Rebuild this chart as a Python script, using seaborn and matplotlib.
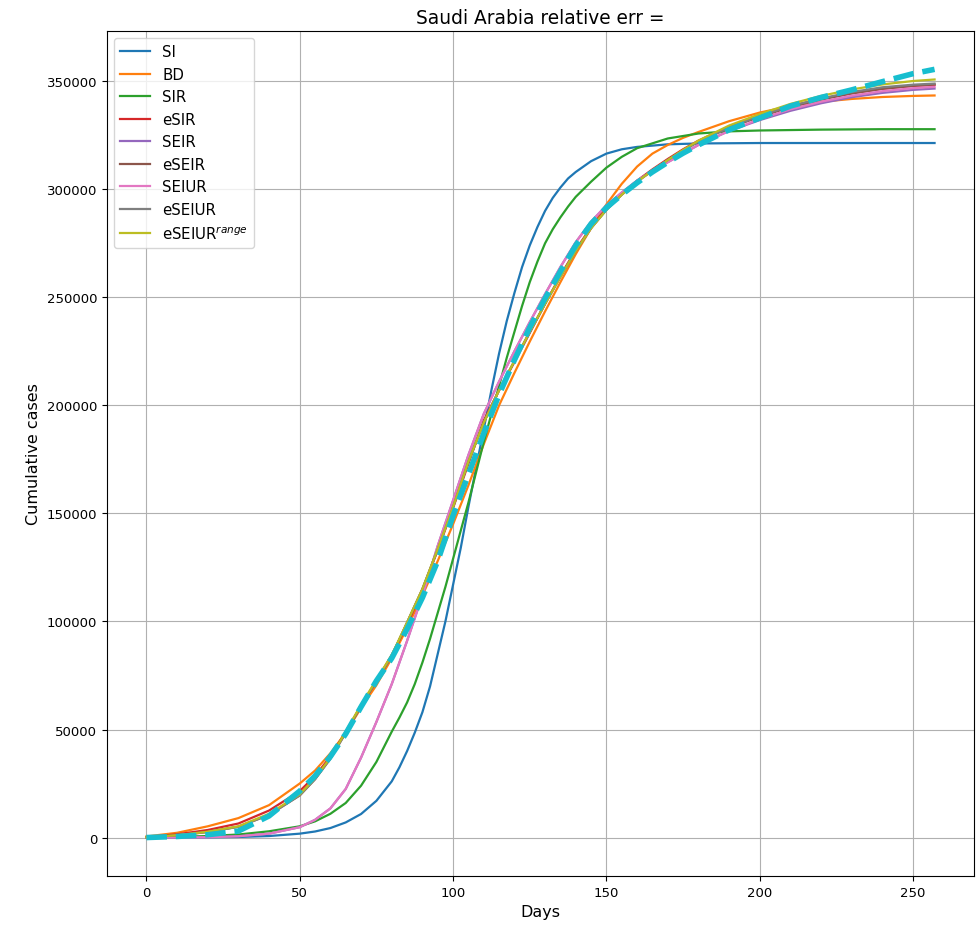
import numpy as np
import matplotlib
matplotlib.use("Agg")
import matplotlib.pyplot as plt
import seaborn as sns

# values, cumulative cases in thousands
days = [0, 10, 20, 30, 40, 50, 55, 60, 65, 70, 75, 80, 85, 90, 95, 100, 105, 110,
        115, 120, 125, 130, 135, 140, 145, 150, 155, 160, 165, 170, 175, 180, 190,
        200, 210, 220, 230, 240, 250, 257]

# SI and SIR rise steeply, so they were read at a finer step
steep_days = [0, 10, 20, 30, 40, 50, 55, 60, 65, 70, 75, 80, 82.5, 85, 87.5, 90,
              92.5, 95, 97.5, 100, 102.5, 105, 107.5, 110, 112.5, 115, 117.5, 120,
              122.5, 125, 127.5, 130, 132.5, 135, 137.5, 140, 145, 150, 155, 160,
              170, 180, 190, 200, 220, 240, 257]

si = [0.02, 0.05, 0.11, 0.27, 0.7, 1.8, 2.8, 4.4, 7, 10.9, 17, 26, 32.5, 40, 48.5,
      58, 70, 85, 100, 117, 134, 153, 171, 189, 207, 224, 239, 252, 264, 274, 282.5,
      290, 296, 300.8, 305, 308, 313, 316.5, 318.5, 319.6, 320.8, 321.2, 321.3,
      321.4, 321.4, 321.4, 321.4]
sir = [0.1, 0.3, 0.7, 1.4, 2.9, 5.2, 7.5, 11, 16, 24, 35, 49, 55.5, 62.5, 71, 81,
       92, 104, 116, 129, 142, 155, 169, 183, 196, 209, 222, 234, 246, 257, 266.5,
       275, 281.5, 287, 292, 296.5, 303.5, 310, 315, 319, 323.5, 325.8, 326.8, 327.2,
       327.6, 327.8, 327.8]

bd = [0.5, 2.2, 5.2, 9, 15, 25, 31, 39, 48.5, 60, 70.5, 83, 97, 112, 128, 145, 163,
      182, 200, 215, 229.5, 243.5, 257, 270, 282, 293, 302.5, 310.5, 316.5, 320.5,
      323.8, 326.5, 331.5, 335.5, 338.5, 340.5, 341.8, 342.7, 343.2, 343.4]
esir = [0.2, 1.5, 3.5, 6.5, 12.5, 21.5, 28.5, 37.5, 49, 61, 72.5, 84.5, 98.5, 114.5,
        133, 152.5, 173, 193, 207, 220, 233.5, 247, 260, 272, 282.5, 291, 298, 304,
        309.2, 314, 318.5, 322.5, 329, 334, 338.5, 341.8, 344.5, 346.5, 347.8, 348.3]
seir = [0.02, 0.05, 0.15, 0.6, 1.8, 4.8, 8.2, 13.5, 22.5, 37, 53.5, 71, 91, 112, 135,
        156, 177, 196, 211, 225, 238.5, 251.5, 264, 275.5, 285, 292.5, 298.5, 304,
        308.5, 312.5, 316.5, 320.5, 327, 332, 336.3, 339.8, 342.6, 344.6, 346, 346.6]
eseir = [0.1, 1.0, 2.6, 5, 10.5, 19.5, 27, 36.5, 48.5, 61, 72.5, 84, 99.5, 115, 133.5,
         153, 174, 192, 207, 220.5, 234, 247, 259.5, 271.5, 282, 290.5, 297.5, 303.5,
         308.7, 313.5, 318, 322, 328.5, 333.5, 338, 341.5, 344.3, 346.5, 347.9, 348.5]
seiur = [0.02, 0.05, 0.15, 0.6, 1.8, 4.8, 8.2, 13.5, 22.5, 37, 53.5, 71, 91, 112, 135,
         156, 177, 196, 211, 225, 238.5, 251.5, 264, 275.5, 285, 292.5, 298.5, 304,
         308.5, 312.5, 316.5, 320.5, 327, 332.5, 337, 340.5, 343.3, 345.4, 346.8, 347.4]
eseiur = [0.1, 1.0, 2.6, 5, 10.5, 19.5, 27, 36.5, 48.5, 61, 72.5, 84, 99.5, 115, 133.5,
          153, 174, 192, 207, 220.5, 234, 247, 259.5, 271.5, 282, 290.5, 297.5, 303.5,
          308.7, 313.5, 318, 322, 328.5, 334, 338.5, 342, 345, 347.2, 348.4, 348.9]
eseiur_range = [0.1, 1.1, 2.7, 5.2, 11, 20, 27.5, 37, 49, 61.5, 73, 84.5, 99.5, 115,
                133.5, 153, 174, 192, 207, 220.5, 234, 247, 259.5, 271.5, 282, 290.5,
                297.5, 303.5, 308.7, 313.5, 318.2, 322.5, 329.5, 334.8, 339.5, 343.2,
                346.2, 348.5, 350.1, 350.8]
observed = [0, 0.5, 1.3, 3, 10, 21.5, 28.5, 37.5, 48, 60.5, 72.5, 83, 96.5, 111, 128,
            149, 168, 187, 205, 221, 236, 249.5, 262, 274, 284, 291.5, 297.5, 303,
            308, 312.5, 316.7, 320.5, 327.5, 333, 338.5, 342.5, 346, 349.8, 353.5,
            355.5]

model_names = ["SI", "BD", "SIR", "eSIR", "SEIR", "eSEIR", "SEIUR", "eSEIUR",
               "eSEIUR$^{range}$"]
model_values = [si, bd, sir, esir, seir, eseir, seiur, eseiur, eseiur_range]
model_days = [steep_days, days, steep_days, days, days, days, days, days, days]

colors = sns.color_palette("tab10", 10)

fig = plt.figure(figsize=(9.77, 9.28), dpi=100)
ax = fig.add_axes([0.1095, 0.055, 0.8874, 0.9106])

for i, (name, x, vals) in enumerate(zip(model_names, model_days, model_values)):
    sns.lineplot(x=x, y=np.array(vals) * 1000, color=colors[i],
                 linewidth=1.6, label=name, ax=ax)

# reported cases, drawn on top
sns.lineplot(x=days, y=np.array(observed) * 1000, color=colors[9],
             linewidth=4, linestyle="--", ax=ax)

ax.set_title("Saudi Arabia relative err =", fontsize=13.4)
ax.set_xlabel("Days", fontsize=11.5)
ax.set_ylabel("Cumulative cases", fontsize=11.5)
ax.tick_params(labelsize=9.5)
ax.grid(True)
ax.legend(loc="upper left", fontsize=10.8)

fig.savefig("out.png", dpi=100)
